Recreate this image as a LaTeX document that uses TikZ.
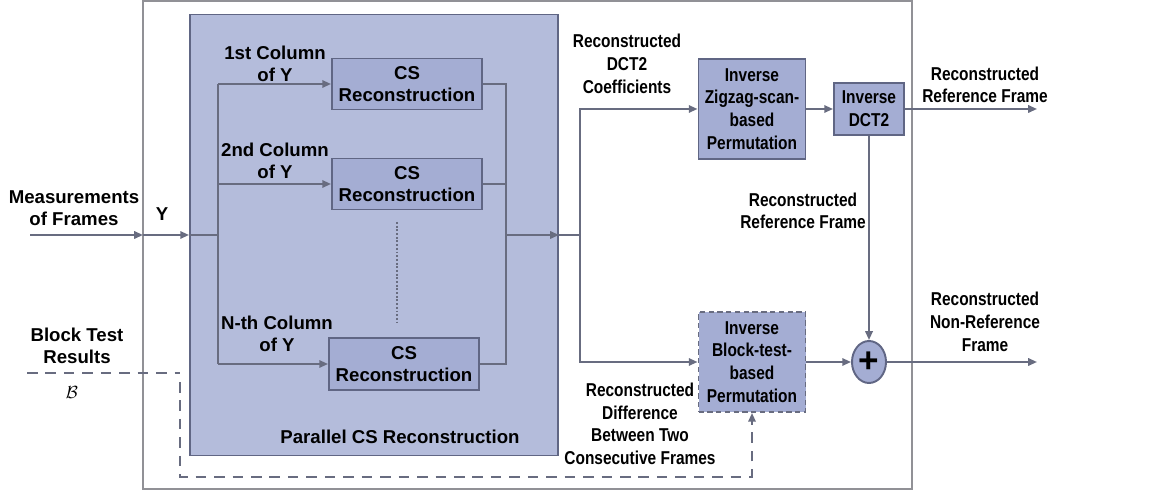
\documentclass[tikz,border=0pt]{standalone}
\usepackage{fontspec}
\setmainfont{Liberation Sans}
\newfontfamily\condf[FakeStretch=0.83]{Liberation Sans}
\usetikzlibrary{arrows.meta}
\usetikzlibrary{shapes.geometric}
\usepackage{xcolor}

\definecolor{parfill}{RGB}{180,188,219}
\definecolor{boxfill}{RGB}{164,173,211}
\definecolor{boxedge}{RGB}{96,102,132}
\definecolor{wire}{RGB}{104,108,128}
\definecolor{frame}{RGB}{145,145,150}
\def\pxu{0.02cm}

\begin{document}
\begin{tikzpicture}[x=0.02cm, y=-0.02cm,
        font=\fontsize{10.6}{12.6}\selectfont\bfseries,
        lbl/.style={align=center, inner sep=0pt},
        narrow/.style={font=\condf\fontsize{10.6}{12.9}\selectfont\bfseries},
        blk/.style={draw=boxedge, line width=1.1pt, fill=boxfill, align=center, inner sep=0pt},
        wireline/.style={draw=wire, line width=1.1pt},
        arr/.style={wireline, -{Triangle[length=5pt, width=4.2pt]}},
        fb/.style={draw=wire, line width=1.1pt, dash pattern=on 6pt off 4.5pt}]
        \useasboundingbox (0,0) rectangle (1176,492);

        % outer frame and parallel part
        \draw[frame, line width=1pt] (143,1) rectangle (912,489);
        \node[blk, fill=parfill, minimum width=368*\pxu, minimum height=441*\pxu] (par) at (374,235) {};
        \node[lbl] (partxt) at (400,437) {Parallel CS Reconstruction};

        \node[blk, minimum width=150*\pxu, minimum height=51*\pxu] (cs1) at (407,84)  {CS\\Reconstruction};
        \node[blk, minimum width=150*\pxu, minimum height=51*\pxu] (cs2) at (407,184) {CS\\Reconstruction};
        \node[blk, minimum width=150*\pxu, minimum height=52*\pxu] (cs3) at (404,364) {CS\\Reconstruction};

        \node[blk, narrow, minimum width=107*\pxu, minimum height=100*\pxu] (zig) at (752,109) {Inverse\\Zigzag-scan-\\based\\Permutation};
        \node[blk, narrow, minimum width=70*\pxu, minimum height=52*\pxu] (idct) at (869,109) {Inverse\\DCT2};
        \node[blk, narrow, densely dashed, draw=wire, minimum width=107*\pxu, minimum height=100*\pxu] (bperm) at (752,362) {Inverse\\Block-test-\\based\\Permutation};
        \node[blk, ellipse, minimum width=34*\pxu, minimum height=42*\pxu] (plus) at (869,362) {\fontsize{20}{20}\selectfont +};

        % labels
        \node[lbl] (meas)  at (74,208)  {Measurements\\of Frames};
        \node[lbl] (ylab)  at (162,214) {Y};
        \node[lbl] (col1)  at (275,64)  {1st Column\\of Y};
        \node[lbl] (col2)  at (275,161) {2nd Column\\of Y};
        \node[lbl] (colN)  at (277,334) {N-th Column\\of Y};
        \node[lbl, narrow] (coef)  at (627,64)  {Reconstructed\\DCT2\\Coefficients};
        \node[lbl, narrow] (ref1)  at (985,85)  {Reconstructed\\Reference Frame};
        \node[lbl, narrow] (ref2)  at (803,211) {Reconstructed\\Reference Frame};
        \node[lbl, narrow] (nref)  at (985,322) {Reconstructed\\Non-Reference\\Frame};
        \node[lbl, narrow] (diff)  at (640,424) {Reconstructed\\Difference\\Between Two\\Consecutive Frames};
        \node[lbl] (btest) at (77,346)  {Block Test\\Results};
        \node[lbl, font=\normalfont] (bset) at (72,393) {$\mathcal{B}$};

        \coordinate (src)  at (30,235);
        \coordinate (edge) at (143,235);
        \coordinate (sl)   at (218,235);
        \coordinate (sr)   at (506,235);
        \coordinate (sp)   at (580,235);
        \coordinate (out1) at (1037,109);
        \coordinate (out2) at (1037,362);
        \coordinate (fb0)  at (27,373);
        \coordinate (fb1)  at (180,373);
        \coordinate (fb2)  at (180,477);

        % connectors
        \draw[arr] (src) -- (edge);
        \draw[arr] (edge) -- (par.west |- edge);
        \draw[wireline] (par.west |- edge) -- (sl);
        \draw[wireline] (cs1.west -| sl) -- (cs3.west -| sl);
        \draw[arr] (cs1.west -| sl) -- (cs1.west);
        \draw[arr] (cs2.west -| sl) -- (cs2.west);
        \draw[arr] (sl |- cs3.west) -- (cs3.west);
        \draw[wireline] (cs1.east) -| (sr);
        \draw[wireline] (cs2.east) -- (cs2.east -| sr);
        \draw[wireline] (cs3.east) -| (sr);
        \draw[arr] (sr) -- (par.east |- sr);
        \draw[wireline] (par.east |- sr) -- (sp);
        \draw[wire, line width=1.1pt, densely dotted] (397,222) -- (397,322);

        \draw[arr] (sp) |- (zig.west);
        \draw[arr] (sp) |- (bperm.west);
        \draw[arr] (zig) -- (idct);
        \draw[arr] (idct.east) -- (out1);
        \draw[arr] (idct.south) -- (plus.north);
        \draw[arr] (bperm) -- (plus);
        \draw[arr] (plus.east) -- (out2);

        \draw[fb] (fb0) -- (fb1);
        \draw[fb, -{Triangle[length=5pt, width=4.2pt]}] (180,382) -- (fb2) -| (bperm.south);
    \end{tikzpicture}
\end{document}
